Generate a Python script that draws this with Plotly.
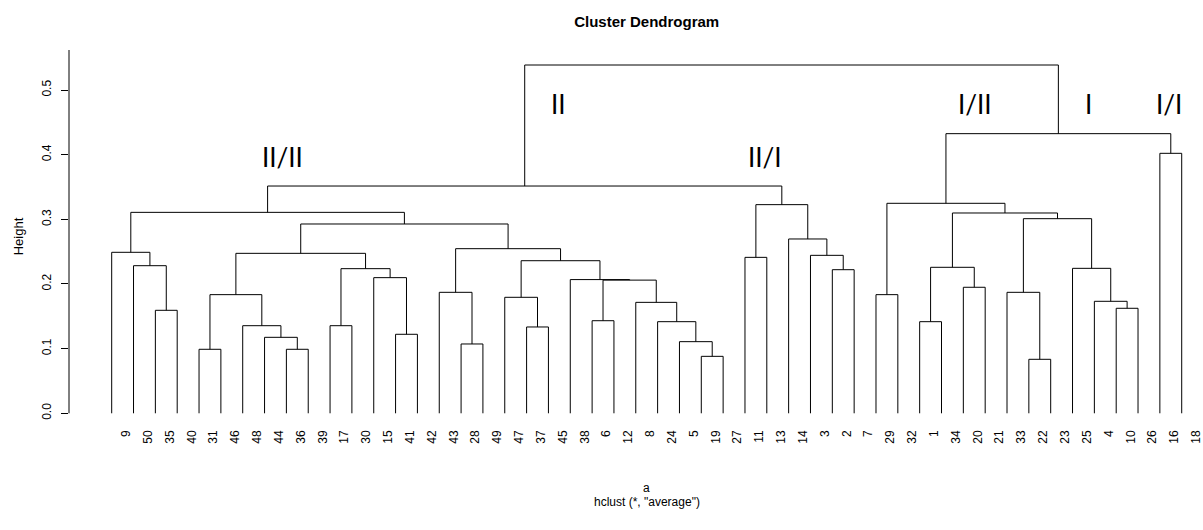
import plotly.graph_objects as go

# ---------------- data ----------------
leaf_order = [9, 50, 35, 40, 31, 46, 48, 44, 36, 39, 17, 30, 15, 41, 42, 43, 28, 49,
              47, 37, 45, 38, 6, 12, 8, 24, 5, 19, 27, 11, 13, 14, 3, 2, 7, 29, 32,
              1, 34, 20, 21, 33, 22, 23, 25, 4, 10, 26, 16, 18]

# merges: ints are leaves (observation numbers), strings are earlier merges
merge_name = ["A", "B", "C", "D", "E", "F", "G", "H", "I", "J", "K", "L", "M",
              "Q", "R", "S", "T", "U", "V", "W", "X", "Y", "Z", "AA", "AB", "AC",
              "N", "O", "AD", "AG", "AH", "AF", "AE", "P",
              "AI", "AJ", "AK", "AL", "AM", "AN", "AO", "AP", "AQ", "AR", "AS",
              "AT", "AU", "AV", "ROOT"]
merge_left = [35, 50, 9, 31, 36, 44, 48, "D", 17, 41, 15, "I", "H",
              28, 43, 37, 47, 6, 19, 5, 24, 8, "U", 38, "T", "R",
              "M", "C", 11, 2, 3, 14, "AD", "O",
              29, 1, 20, "AJ", 22, 33, 10, 4, 25, "AN", "AL",
              "AI", 16, "AT", "P"]
merge_right = [40, "A", "B", 46, 39, "E", "F", "G", 30, 42, "J", "K", "L",
               49, "Q", 45, "S", 12, 27, "V", "W", "X", "Y", "Z", "AA", "AB",
               "AC", "N", 13, 7, "AG", "AH", "AF", "AE",
               32, 34, 21, "AK", 23, "AM", 26, "AO", "AP", "AQ", "AR",
               "AS", 18, "AU", "AV"]
merge_height = [0.1593, 0.2283, 0.2490, 0.0990, 0.0990, 0.1175, 0.1355, 0.1835,
                0.1355, 0.1222, 0.2098, 0.2237, 0.2474,
                0.1072, 0.1871, 0.1335, 0.1794, 0.1432, 0.0881, 0.1108, 0.1417,
                0.1716, 0.2060, 0.2068, 0.2360, 0.2546,
                0.2928, 0.3108, 0.2412, 0.2221, 0.2443, 0.2696, 0.3227, 0.3515,
                0.1835, 0.1417, 0.1949, 0.2258, 0.0835, 0.1871, 0.1624, 0.1732,
                0.2242, 0.3010, 0.3098, 0.3248, 0.4021, 0.4325, 0.5387]

y_ticks = [0.0, 0.1, 0.2, 0.3, 0.4, 0.5]

group_labels = ["II/II", "II", "II/I", "I/II", "I", "I/I"]
group_x = [7.84, 20.44, 29.92, 39.55, 44.72, 48.41]
group_y = [0.397, 0.479, 0.397, 0.479, 0.479, 0.478]

# ---------------- geometry from the merge table ----------------
pos = {leaf: i for i, leaf in enumerate(leaf_order)}
hgt = {leaf: 0.0 for leaf in leaf_order}
xs, ys = [], []
for name, l, r, h in zip(merge_name, merge_left, merge_right, merge_height):
    xl, xr = pos[l], pos[r]
    xs += [xl, xl, xr, xr, None]
    ys += [hgt[l], h, h, hgt[r], None]
    pos[name] = (xl + xr) / 2
    hgt[name] = h

fig = go.Figure()
fig.add_trace(go.Scatter(x=xs, y=ys, mode="lines",
                         line=dict(color="black", width=1),
                         hoverinfo="skip", showlegend=False))

for t, gx, gy in zip(group_labels, group_x, group_y):
    fig.add_annotation(x=gx, y=gy, text=t, showarrow=False,
                       font=dict(family="Lato", size=26, color="black"),
                       xanchor="center", yanchor="middle")

W, H = 1203, 530
ml, mr, mt, mb = 69, 0, 50, 103
pw, ph = W - ml - mr, H - mt - mb
ytop = 0.5619
ybot = -0.0212

fig.add_shape(type="line", xref="paper", yref="y", x0=0, x1=0, y0=0, y1=ytop,
              line=dict(color="black", width=1))

font_main = "Liberation Sans, Arial, sans-serif"
fig.add_annotation(xref="paper", yref="paper", x=(18.3 - ml) / pw, y=(H - mb - 236) / ph,
                   text="Height", textangle=-90, showarrow=False,
                   xanchor="center", yanchor="middle",
                   font=dict(family=font_main, size=13, color="black"))
fig.add_annotation(xref="paper", yref="paper", x=(646.7 - ml) / pw, y=(H - mb - 488) / ph,
                   text="a", showarrow=False, xanchor="center", yanchor="middle",
                   font=dict(family=font_main, size=12, color="black"))
fig.add_annotation(xref="paper", yref="paper", x=(646.7 - ml) / pw, y=(H - mb - 502) / ph,
                   text='hclust (*, "average")', showarrow=False,
                   xanchor="center", yanchor="middle",
                   font=dict(family=font_main, size=12, color="black"))

fig.update_layout(
    width=W, height=H,
    margin=dict(l=ml, r=mr, t=mt, b=mb),
    paper_bgcolor="white", plot_bgcolor="white",
    title=dict(text="<b>Cluster Dendrogram</b>", xref="container", yref="container",
               x=646.7 / W, y=1 - 21.5 / H, xanchor="center", yanchor="middle",
               font=dict(family=font_main, size=15, color="black")),
    xaxis=dict(range=[-1.955, 49.975], showgrid=False, zeroline=False, showline=False,
               tickmode="array", tickvals=[i + 0.66 for i in range(len(leaf_order))],
               ticktext=[str(v) for v in leaf_order], tickangle=-90, ticks="",
               ticklabeloverflow="allow",
               tickfont=dict(family=font_main, size=12, color="black")),
    yaxis=dict(range=[ybot, ytop], showgrid=False, zeroline=False, showline=False,
               tickmode="array", tickvals=y_ticks, ticktext=[f"{v:.1f}" for v in y_ticks],
               tickangle=-90, ticks="outside", ticklen=7, tickcolor="black",
               ticklabelstandoff=5,
               tickfont=dict(family=font_main, size=12, color="black")),
)

fig.write_html("out.html", config={"displayModeBar": False},
               post_script="document.body.style.margin='0';document.body.style.overflow='hidden';")
